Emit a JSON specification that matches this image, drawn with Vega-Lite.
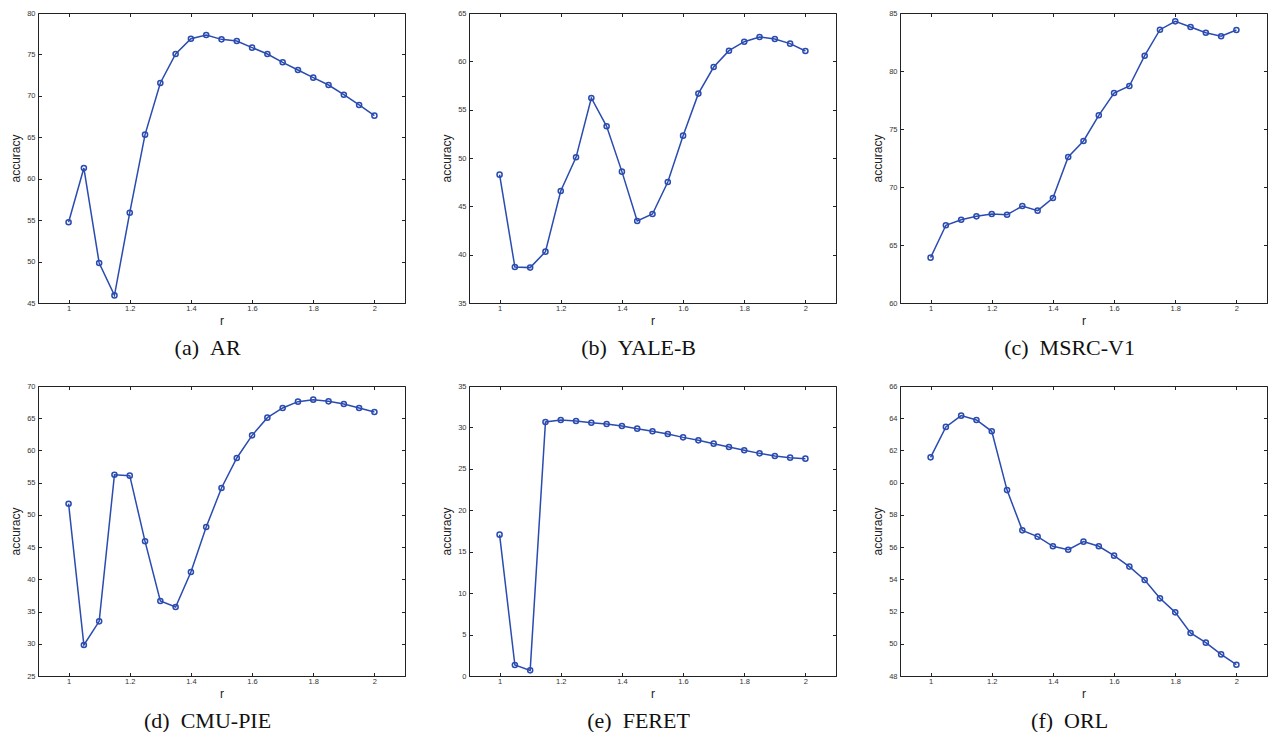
{
  "$schema": "https://vega.github.io/schema/vega-lite/v6.json",
  "padding": {"left": 9, "top": 8, "right": 0, "bottom": 0},
  "background": "white",
  "datasets": {
    "acc": [
      {"p":"a","r":1.00,"v":54.74},{"p":"a","r":1.05,"v":61.29},{"p":"a","r":1.10,"v":49.83},{"p":"a","r":1.15,"v":45.92},{"p":"a","r":1.20,"v":55.90},{"p":"a","r":1.25,"v":65.32},{"p":"a","r":1.30,"v":71.55},{"p":"a","r":1.35,"v":75.05},{"p":"a","r":1.40,"v":76.90},{"p":"a","r":1.45,"v":77.34},{"p":"a","r":1.50,"v":76.82},{"p":"a","r":1.55,"v":76.62},{"p":"a","r":1.60,"v":75.82},{"p":"a","r":1.65,"v":75.05},{"p":"a","r":1.70,"v":74.05},{"p":"a","r":1.75,"v":73.12},{"p":"a","r":1.80,"v":72.20},{"p":"a","r":1.85,"v":71.31},{"p":"a","r":1.90,"v":70.14},{"p":"a","r":1.95,"v":68.90},{"p":"a","r":2.00,"v":67.61},
      {"p":"b","r":1.00,"v":48.28},{"p":"b","r":1.05,"v":38.72},{"p":"b","r":1.10,"v":38.66},{"p":"b","r":1.15,"v":40.31},{"p":"b","r":1.20,"v":46.59},{"p":"b","r":1.25,"v":50.07},{"p":"b","r":1.30,"v":56.21},{"p":"b","r":1.35,"v":53.28},{"p":"b","r":1.40,"v":48.59},{"p":"b","r":1.45,"v":43.48},{"p":"b","r":1.50,"v":44.21},{"p":"b","r":1.55,"v":47.52},{"p":"b","r":1.60,"v":52.31},{"p":"b","r":1.65,"v":56.66},{"p":"b","r":1.70,"v":59.41},{"p":"b","r":1.75,"v":61.10},{"p":"b","r":1.80,"v":62.03},{"p":"b","r":1.85,"v":62.52},{"p":"b","r":1.90,"v":62.31},{"p":"b","r":1.95,"v":61.83},{"p":"b","r":2.00,"v":61.07},
      {"p":"c","r":1.00,"v":63.91},{"p":"c","r":1.05,"v":66.70},{"p":"c","r":1.10,"v":67.18},{"p":"c","r":1.15,"v":67.47},{"p":"c","r":1.20,"v":67.67},{"p":"c","r":1.25,"v":67.61},{"p":"c","r":1.30,"v":68.36},{"p":"c","r":1.35,"v":67.96},{"p":"c","r":1.40,"v":69.05},{"p":"c","r":1.45,"v":72.59},{"p":"c","r":1.50,"v":73.97},{"p":"c","r":1.55,"v":76.18},{"p":"c","r":1.60,"v":78.10},{"p":"c","r":1.65,"v":78.71},{"p":"c","r":1.70,"v":81.32},{"p":"c","r":1.75,"v":83.56},{"p":"c","r":1.80,"v":84.28},{"p":"c","r":1.85,"v":83.79},{"p":"c","r":1.90,"v":83.30},{"p":"c","r":1.95,"v":82.99},{"p":"c","r":2.00,"v":83.53},
      {"p":"d","r":1.00,"v":51.74},{"p":"d","r":1.05,"v":29.81},{"p":"d","r":1.10,"v":33.48},{"p":"d","r":1.15,"v":56.24},{"p":"d","r":1.20,"v":56.09},{"p":"d","r":1.25,"v":45.90},{"p":"d","r":1.30,"v":36.64},{"p":"d","r":1.35,"v":35.71},{"p":"d","r":1.40,"v":41.14},{"p":"d","r":1.45,"v":48.12},{"p":"d","r":1.50,"v":54.17},{"p":"d","r":1.55,"v":58.83},{"p":"d","r":1.60,"v":62.34},{"p":"d","r":1.65,"v":65.09},{"p":"d","r":1.70,"v":66.59},{"p":"d","r":1.75,"v":67.57},{"p":"d","r":1.80,"v":67.88},{"p":"d","r":1.85,"v":67.62},{"p":"d","r":1.90,"v":67.21},{"p":"d","r":1.95,"v":66.59},{"p":"d","r":2.00,"v":65.97},
      {"p":"e","r":1.00,"v":17.06},{"p":"e","r":1.05,"v":1.33},{"p":"e","r":1.10,"v":0.68},{"p":"e","r":1.15,"v":30.66},{"p":"e","r":1.20,"v":30.90},{"p":"e","r":1.25,"v":30.78},{"p":"e","r":1.30,"v":30.57},{"p":"e","r":1.35,"v":30.41},{"p":"e","r":1.40,"v":30.17},{"p":"e","r":1.45,"v":29.85},{"p":"e","r":1.50,"v":29.53},{"p":"e","r":1.55,"v":29.21},{"p":"e","r":1.60,"v":28.80},{"p":"e","r":1.65,"v":28.44},{"p":"e","r":1.70,"v":28.04},{"p":"e","r":1.75,"v":27.64},{"p":"e","r":1.80,"v":27.24},{"p":"e","r":1.85,"v":26.87},{"p":"e","r":1.90,"v":26.55},{"p":"e","r":1.95,"v":26.35},{"p":"e","r":2.00,"v":26.23},
      {"p":"f","r":1.00,"v":61.57},{"p":"f","r":1.05,"v":63.46},{"p":"f","r":1.10,"v":64.16},{"p":"f","r":1.15,"v":63.89},{"p":"f","r":1.20,"v":63.19},{"p":"f","r":1.25,"v":59.54},{"p":"f","r":1.30,"v":57.04},{"p":"f","r":1.35,"v":56.65},{"p":"f","r":1.40,"v":56.05},{"p":"f","r":1.45,"v":55.84},{"p":"f","r":1.50,"v":56.34},{"p":"f","r":1.55,"v":56.05},{"p":"f","r":1.60,"v":55.47},{"p":"f","r":1.65,"v":54.79},{"p":"f","r":1.70,"v":53.96},{"p":"f","r":1.75,"v":52.82},{"p":"f","r":1.80,"v":51.95},{"p":"f","r":1.85,"v":50.67},{"p":"f","r":1.90,"v":50.07},{"p":"f","r":1.95,"v":49.34},{"p":"f","r":2.00,"v":48.70}
    ]
  },
  "spacing": 22,
  "vconcat": [
    {
      "spacing": 34,
      "hconcat": [
        {
          "width": 367, "height": 290,
          "title": {"text": "(a)\u00a0\u00a0AR"},
          "data": {"name": "acc"},
          "transform": [{"filter": "datum.p === 'a'"}],
          "layer": [
            {"mark": {"type": "line", "color": "#2a4bb0", "strokeWidth": 1.5},
             "encoding": {
               "x": {"field": "r", "type": "quantitative", "scale": {"domain": [0.9, 2.1], "nice": false, "zero": false}, "axis": {"orient": "bottom", "values": [1, 1.2, 1.4, 1.6, 1.8, 2], "format": "~g", "title": "r"}},
               "y": {"field": "v", "type": "quantitative", "scale": {"domain": [45, 80], "nice": false, "zero": false}, "axis": {"orient": "left", "values": [45, 50, 55, 60, 65, 70, 75, 80], "title": "accuracy"}}
             }},
            {"mark": {"type": "point", "shape": "circle", "filled": false, "color": "#2a4bb0", "size": 26, "strokeWidth": 1.5, "opacity": 1},
             "encoding": {
               "x": {"field": "r", "type": "quantitative", "axis": {"orient": "top", "values": [1, 1.2, 1.4, 1.6, 1.8, 2], "labels": false, "domain": false, "title": null}},
               "y": {"field": "v", "type": "quantitative", "axis": {"orient": "right", "values": [45, 50, 55, 60, 65, 70, 75, 80], "labels": false, "domain": false, "title": null}}
             }}
          ],
          "resolve": {"axis": {"x": "independent", "y": "independent"}}
        },
        {
          "width": 367, "height": 290,
          "title": {"text": "(b)\u00a0\u00a0YALE-B"},
          "data": {"name": "acc"},
          "transform": [{"filter": "datum.p === 'b'"}],
          "layer": [
            {"mark": {"type": "line", "color": "#2a4bb0", "strokeWidth": 1.5},
             "encoding": {
               "x": {"field": "r", "type": "quantitative", "scale": {"domain": [0.9, 2.1], "nice": false, "zero": false}, "axis": {"orient": "bottom", "values": [1, 1.2, 1.4, 1.6, 1.8, 2], "format": "~g", "title": "r"}},
               "y": {"field": "v", "type": "quantitative", "scale": {"domain": [35, 65], "nice": false, "zero": false}, "axis": {"orient": "left", "values": [35, 40, 45, 50, 55, 60, 65], "title": "accuracy"}}
             }},
            {"mark": {"type": "point", "shape": "circle", "filled": false, "color": "#2a4bb0", "size": 26, "strokeWidth": 1.5, "opacity": 1},
             "encoding": {
               "x": {"field": "r", "type": "quantitative", "axis": {"orient": "top", "values": [1, 1.2, 1.4, 1.6, 1.8, 2], "labels": false, "domain": false, "title": null}},
               "y": {"field": "v", "type": "quantitative", "axis": {"orient": "right", "values": [35, 40, 45, 50, 55, 60, 65], "labels": false, "domain": false, "title": null}}
             }}
          ],
          "resolve": {"axis": {"x": "independent", "y": "independent"}}
        },
        {
          "width": 367, "height": 290,
          "title": {"text": "(c)\u00a0\u00a0MSRC-V1"},
          "data": {"name": "acc"},
          "transform": [{"filter": "datum.p === 'c'"}],
          "layer": [
            {"mark": {"type": "line", "color": "#2a4bb0", "strokeWidth": 1.5},
             "encoding": {
               "x": {"field": "r", "type": "quantitative", "scale": {"domain": [0.9, 2.1], "nice": false, "zero": false}, "axis": {"orient": "bottom", "values": [1, 1.2, 1.4, 1.6, 1.8, 2], "format": "~g", "title": "r"}},
               "y": {"field": "v", "type": "quantitative", "scale": {"domain": [60, 85], "nice": false, "zero": false}, "axis": {"orient": "left", "values": [60, 65, 70, 75, 80, 85], "title": "accuracy"}}
             }},
            {"mark": {"type": "point", "shape": "circle", "filled": false, "color": "#2a4bb0", "size": 26, "strokeWidth": 1.5, "opacity": 1},
             "encoding": {
               "x": {"field": "r", "type": "quantitative", "axis": {"orient": "top", "values": [1, 1.2, 1.4, 1.6, 1.8, 2], "labels": false, "domain": false, "title": null}},
               "y": {"field": "v", "type": "quantitative", "axis": {"orient": "right", "values": [60, 65, 70, 75, 80, 85], "labels": false, "domain": false, "title": null}}
             }}
          ],
          "resolve": {"axis": {"x": "independent", "y": "independent"}}
        }
      ]
    },
    {
      "spacing": 34,
      "hconcat": [
        {
          "width": 367, "height": 290,
          "title": {"text": "(d)\u00a0\u00a0CMU-PIE"},
          "data": {"name": "acc"},
          "transform": [{"filter": "datum.p === 'd'"}],
          "layer": [
            {"mark": {"type": "line", "color": "#2a4bb0", "strokeWidth": 1.5},
             "encoding": {
               "x": {"field": "r", "type": "quantitative", "scale": {"domain": [0.9, 2.1], "nice": false, "zero": false}, "axis": {"orient": "bottom", "values": [1, 1.2, 1.4, 1.6, 1.8, 2], "format": "~g", "title": "r"}},
               "y": {"field": "v", "type": "quantitative", "scale": {"domain": [25, 70], "nice": false, "zero": false}, "axis": {"orient": "left", "values": [25, 30, 35, 40, 45, 50, 55, 60, 65, 70], "title": "accuracy"}}
             }},
            {"mark": {"type": "point", "shape": "circle", "filled": false, "color": "#2a4bb0", "size": 26, "strokeWidth": 1.5, "opacity": 1},
             "encoding": {
               "x": {"field": "r", "type": "quantitative", "axis": {"orient": "top", "values": [1, 1.2, 1.4, 1.6, 1.8, 2], "labels": false, "domain": false, "title": null}},
               "y": {"field": "v", "type": "quantitative", "axis": {"orient": "right", "values": [25, 30, 35, 40, 45, 50, 55, 60, 65, 70], "labels": false, "domain": false, "title": null}}
             }}
          ],
          "resolve": {"axis": {"x": "independent", "y": "independent"}}
        },
        {
          "width": 367, "height": 290,
          "title": {"text": "(e)\u00a0\u00a0FERET"},
          "data": {"name": "acc"},
          "transform": [{"filter": "datum.p === 'e'"}],
          "layer": [
            {"mark": {"type": "line", "color": "#2a4bb0", "strokeWidth": 1.5},
             "encoding": {
               "x": {"field": "r", "type": "quantitative", "scale": {"domain": [0.9, 2.1], "nice": false, "zero": false}, "axis": {"orient": "bottom", "values": [1, 1.2, 1.4, 1.6, 1.8, 2], "format": "~g", "title": "r"}},
               "y": {"field": "v", "type": "quantitative", "scale": {"domain": [0, 35], "nice": false, "zero": false}, "axis": {"orient": "left", "values": [0, 5, 10, 15, 20, 25, 30, 35], "title": "accuracy"}}
             }},
            {"mark": {"type": "point", "shape": "circle", "filled": false, "color": "#2a4bb0", "size": 26, "strokeWidth": 1.5, "opacity": 1},
             "encoding": {
               "x": {"field": "r", "type": "quantitative", "axis": {"orient": "top", "values": [1, 1.2, 1.4, 1.6, 1.8, 2], "labels": false, "domain": false, "title": null}},
               "y": {"field": "v", "type": "quantitative", "axis": {"orient": "right", "values": [0, 5, 10, 15, 20, 25, 30, 35], "labels": false, "domain": false, "title": null}}
             }}
          ],
          "resolve": {"axis": {"x": "independent", "y": "independent"}}
        },
        {
          "width": 367, "height": 290,
          "title": {"text": "(f)\u00a0\u00a0ORL"},
          "data": {"name": "acc"},
          "transform": [{"filter": "datum.p === 'f'"}],
          "layer": [
            {"mark": {"type": "line", "color": "#2a4bb0", "strokeWidth": 1.5},
             "encoding": {
               "x": {"field": "r", "type": "quantitative", "scale": {"domain": [0.9, 2.1], "nice": false, "zero": false}, "axis": {"orient": "bottom", "values": [1, 1.2, 1.4, 1.6, 1.8, 2], "format": "~g", "title": "r"}},
               "y": {"field": "v", "type": "quantitative", "scale": {"domain": [48, 66], "nice": false, "zero": false}, "axis": {"orient": "left", "values": [48, 50, 52, 54, 56, 58, 60, 62, 64, 66], "title": "accuracy"}}
             }},
            {"mark": {"type": "point", "shape": "circle", "filled": false, "color": "#2a4bb0", "size": 26, "strokeWidth": 1.5, "opacity": 1},
             "encoding": {
               "x": {"field": "r", "type": "quantitative", "axis": {"orient": "top", "values": [1, 1.2, 1.4, 1.6, 1.8, 2], "labels": false, "domain": false, "title": null}},
               "y": {"field": "v", "type": "quantitative", "axis": {"orient": "right", "values": [48, 50, 52, 54, 56, 58, 60, 62, 64, 66], "labels": false, "domain": false, "title": null}}
             }}
          ],
          "resolve": {"axis": {"x": "independent", "y": "independent"}}
        }
      ]
    }
  ],
  "config": {
    "view": {"stroke": "#222222", "strokeWidth": 1},
    "axis": {
      "grid": false,
      "labelFont": "Liberation Sans", "labelFontSize": 7.5, "labelColor": "#333333", "labelPadding": 6.5,
      "tickColor": "#222222", "tickSize": -3.5, "tickWidth": 1,
      "domainColor": "#222222", "domainWidth": 1,
      "titleFont": "Liberation Sans", "titleFontSize": 12, "titleFontWeight": "normal", "titleColor": "#222222"
    },
    "axisX": {"titlePadding": 4, "labelPadding": 4.5},
    "axisY": {"titlePadding": 4},
    "title": {"font": "Liberation Serif", "fontSize": 22, "fontWeight": "normal", "color": "#111111", "orient": "bottom", "frame": "bounds", "anchor": "middle", "offset": 11}
  }
}
